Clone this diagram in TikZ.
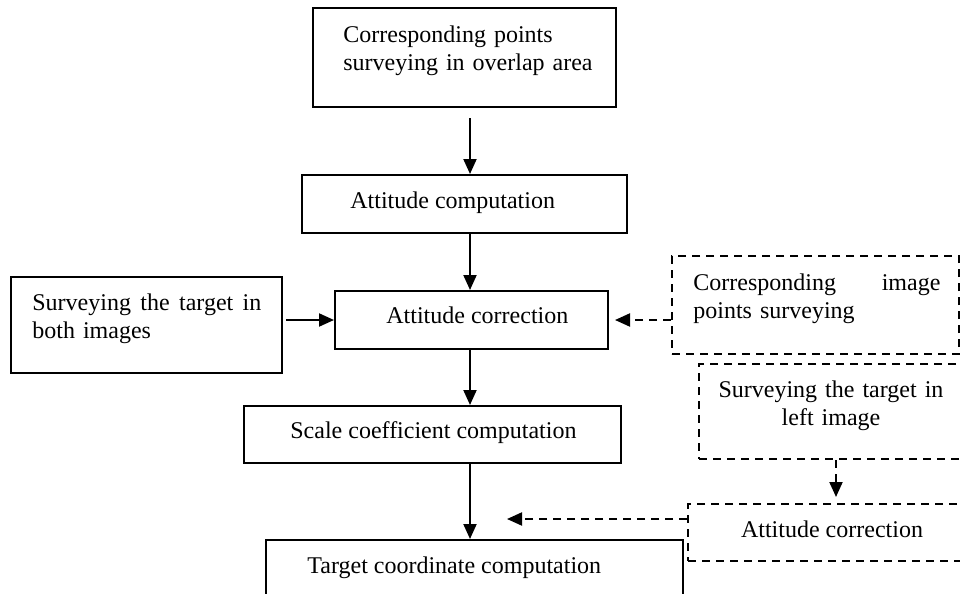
\documentclass[tikz,border=0pt]{standalone}
\usepackage{fontspec}
\setmainfont{Liberation Serif}
\usetikzlibrary{arrows.meta,fit}
\begin{document}
\begin{tikzpicture}[x=0.5pt,y=-0.5pt,
  box/.style={draw,line width=1pt,inner sep=0pt},
  dbox/.style={box,dash pattern=on 4pt off 3pt},
  txt/.style={inner sep=0pt,anchor=base west,font=\fontsize{12}{14}\selectfont},
  ctxt/.style={txt,anchor=base},
  arr/.style={line width=1pt,-{Triangle[length=7.5pt,width=6.5pt]}},
  darr/.style={arr,dash pattern=on 4pt off 3pt}]
\useasboundingbox (0,0) rectangle (960,594);
\clip (0,0) rectangle (960,594);

% main chain of solid boxes
\node[box,fit={(313,8) (616,107)}] (b1) {};
\node[box,fit={(302,175) (627,233)}] (b2) {};
\node[box,fit={(335,291) (608,349)}] (b3) {};
\node[box,fit={(11,277) (282,373)}] (b4) {};
\node[box,fit={(244,406) (621,463)}] (b5) {};
\node[box,fit={(266,540) (683,640)}] (b6) {};

% dashed boxes on the right
\node[dbox,fit={(672,256) (959,354)}] (d1) {};
\node[dbox,fit={(699,364) (990,459)}] (d2) {};
\node[dbox,fit={(688,504) (990,561)}] (d3) {};

% labels
\node[txt,text width=150pt,align=left] (t1) at (343,42) {Corresponding points\\surveying in overlap area};
\node[txt] (t2) at (350,208) {Attitude computation};
\node[txt] (t3) at (386,323) {Attitude correction};
\node[txt,text width=120pt,align=left] (t4) at (32,310)
  {\hbox to 114.5pt{Surveying\hfill the\hfill target\hfill in}\\both images};
\node[txt] (t5) at (290,438) {Scale coefficient computation};
\node[txt] (t6) at (307,573) {Target coordinate computation};
\node[txt,text width=130pt,align=left] (t7) at (693,290)
  {\hbox to 123.5pt{Corresponding\hfill image}\\points surveying};
\node[ctxt,text width=130pt,align=center] (t8) at (831,397) {Surveying the target in\\left image};
\node[ctxt] (t9) at (832,537) {Attitude correction};

% solid connectors
\coordinate (ax) at (470,0);
\coordinate (a1) at (470,118);
\draw[arr] (a1) -- (a1 |- b2.north);
\draw[arr] (b2.south -| ax) -- (b3.north -| ax);
\draw[arr] (b3.south -| ax) -- (b5.north -| ax);
\draw[arr] (b5.south -| ax) -- (b6.north -| ax);
\draw[arr] ([xshift=1.5pt]b4.east |- b3.west) -- (b3.west);

% dashed connectors
\coordinate (e1) at (615,320);
\draw[darr] (d1.west |- e1) -- (e1);
\coordinate (dx) at (836,0);
\draw[darr] (d2.south -| dx) -- ([yshift=3pt]d3.north -| dx);
\coordinate (e2) at (507,519);
\draw[darr] (d3.west |- e2) -- (e2);
\end{tikzpicture}
\end{document}
